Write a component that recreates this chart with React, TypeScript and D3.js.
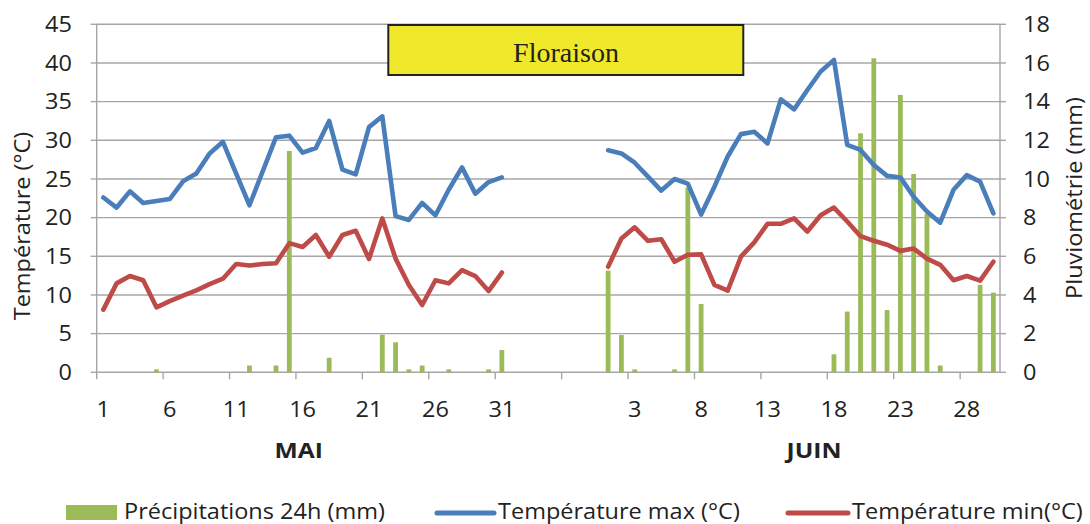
import React from 'react';
import * as d3 from 'd3';

const mayDays = ['1','2','3','4','5','6','7','8','9','10','11','12','13','14','15','16','17','18','19','20','21','22','23','24','25','26','27','28','29','30','31'];
const junDays = ['1','2','3','4','5','6','7','8','9','10','11','12','13','14','15','16','17','18','19','20','21','22','23','24','25','26','27','28','29','30'];
const gapSlots = 7;

const tmaxMay = [22.6,21.3,23.4,21.9,22.15,22.4,24.7,25.7,28.3,29.8,25.7,21.6,26.0,30.4,30.6,28.4,29.0,32.5,26.2,25.6,31.7,33.1,20.2,19.7,21.9,20.3,23.6,26.5,23.1,24.6,25.2];
const tminMay = [8.1,11.5,12.45,11.9,8.4,9.2,9.9,10.6,11.4,12.1,14.0,13.8,14.0,14.1,16.7,16.2,17.75,14.95,17.75,18.3,14.65,19.9,14.7,11.3,8.7,11.9,11.5,13.2,12.45,10.5,12.9];
const rainMay = [0,0,0,0,0.15,0,0,0,0,0,0,0.35,0,0.35,11.45,0,0,0.75,0,0,0,1.95,1.55,0.15,0.35,0,0.15,0,0,0.15,1.15];

const tmaxJun = [28.7,28.3,27.1,25.3,23.5,25.0,24.4,20.4,24.0,27.9,30.8,31.1,29.6,35.3,34.0,36.5,38.9,40.4,29.4,28.75,26.8,25.4,25.2,22.7,20.8,19.35,23.6,25.5,24.65,20.55];
const tminJun = [13.65,17.3,18.75,17.0,17.2,14.3,15.2,15.25,11.3,10.55,14.95,16.8,19.2,19.2,19.9,18.2,20.3,21.3,19.5,17.6,17.0,16.5,15.7,16.0,14.7,13.9,11.9,12.45,11.85,14.3];
const rainJun = [5.26,1.93,0.15,0,0,0.15,9.55,3.53,0,0,0,0,0,0,0,0,0,0.93,3.14,12.36,16.24,3.22,14.35,10.26,8.2,0.35,0,0,4.52,4.12];

const tempTicks = [0,5,10,15,20,25,30,35,40,45];
const rainTicks = [0,2,4,6,8,10,12,14,16,18];
const months = ['MAI','JUIN'];
const legendLabels = ['Précipitations 24h (mm)','Température max (°C)','Température min(°C)'];

type Pt = { i: number; label: string; tmax: number | null; tmin: number | null; rain: number | null };

const pts: Pt[] = [];
mayDays.forEach((d, k) => pts.push({ i: pts.length, label: d, tmax: tmaxMay[k], tmin: tminMay[k], rain: rainMay[k] }));
for (let g = 0; g < gapSlots; g++) pts.push({ i: pts.length, label: '', tmax: null, tmin: null, rain: null });
junDays.forEach((d, k) => pts.push({ i: pts.length, label: d, tmax: tmaxJun[k], tmin: tminJun[k], rain: rainJun[k] }));

const W = 1090, H = 524;
const L = 96.7, R = 1000, T = 24.3, B = 372.3;
const BLUE = '#4A7EBB', RED = '#BE4B48', GREEN = '#9BBB59', GRID = '#A6A6A6';
const FONT = 'Open Sans, sans-serif';
const SX = 1.12;

function Txt(props: { x: number; y: number; size: number; anchor?: string; weight?: string; rot?: number; dy?: string; children: React.ReactNode }) {
  const { x, y, size, anchor = 'start', weight = 'normal', rot = 0, dy, children } = props;
  return (
    <text transform={`translate(${x},${y}) rotate(${rot}) scale(${SX},1)`} textAnchor={anchor} fontSize={size} fontWeight={weight} dy={dy} fill="#222">
      {children}
    </text>
  );
}

export default function App() {
  const x = d3.scaleBand<number>().domain(pts.map(p => p.i)).range([L, R]).padding(0);
  const yT = d3.scaleLinear().domain([0, 45]).range([B, T]);
  const yR = d3.scaleLinear().domain([0, 18]).range([B, T]);
  const cx = (i: number) => (x(i) as number) + x.bandwidth() / 2;

  const lineMax = d3.line<Pt>().defined(p => p.tmax !== null).x(p => cx(p.i)).y(p => yT(p.tmax as number));
  const lineMin = d3.line<Pt>().defined(p => p.tmin !== null).x(p => cx(p.i)).y(p => yT(p.tmin as number));

  const barW = 4.8;
  const tickIdx = pts.filter(p => p.i % 5 === 0).map(p => p.i);

  const mayMid = cx(15) - 4;
  const junMid = (cx(31 + gapSlots + 15) + cx(31 + gapSlots + 16)) / 2;

  return (
    <svg width={W} height={H} style={{ position: 'absolute', left: 0, top: 0, background: '#fff' }} fontFamily={FONT}>
      {tempTicks.map(t => (
        <line key={'g' + t} x1={L} x2={R} y1={yT(t)} y2={yT(t)} stroke={GRID} strokeWidth={1.4} />
      ))}
      <line x1={L} x2={L} y1={T} y2={B} stroke={GRID} strokeWidth={1.4} />
      <line x1={R} x2={R} y1={T} y2={B} stroke={GRID} strokeWidth={1.4} />
      {tempTicks.map(t => (
        <line key={'lt' + t} x1={L - 6} x2={L} y1={yT(t)} y2={yT(t)} stroke={GRID} strokeWidth={1.4} />
      ))}
      {rainTicks.map(t => (
        <line key={'rt' + t} x1={R} x2={R + 6} y1={yR(t)} y2={yR(t)} stroke={GRID} strokeWidth={1.4} />
      ))}
      {tickIdx.map(i => (
        <line key={'xt' + i} x1={x(i) as number} x2={x(i) as number} y1={B} y2={B + 7} stroke={GRID} strokeWidth={1.4} />
      ))}
      {pts.filter(p => p.rain !== null && (p.rain as number) > 0).map(p => (
        <rect key={'b' + p.i} x={cx(p.i) - barW / 2} width={barW} y={yR(p.rain as number)} height={B - yR(p.rain as number)} fill={GREEN} />
      ))}
      <path d={lineMax(pts) || ''} fill="none" stroke={BLUE} strokeWidth={4.6} strokeLinejoin="round" strokeLinecap="round" />
      <path d={lineMin(pts) || ''} fill="none" stroke={RED} strokeWidth={4.6} strokeLinejoin="round" strokeLinecap="round" />
      {tempTicks.map(t => (
        <Txt key={'tl' + t} x={72} y={yT(t)} dy="0.36em" anchor="end" size={21}>{t}</Txt>
      ))}
      {rainTicks.map(t => (
        <Txt key={'rl' + t} x={1023} y={yR(t)} dy="0.36em" anchor="start" size={21}>{t}</Txt>
      ))}
      {tickIdx.map(i => (
        <Txt key={'xl' + i} x={cx(i)} y={417} anchor="middle" size={21}>{pts[i].label}</Txt>
      ))}
      <Txt x={mayMid} y={458} anchor="middle" size={22} weight="bold">{months[0]}</Txt>
      <Txt x={junMid} y={458} anchor="middle" size={22} weight="bold">{months[1]}</Txt>
      <Txt x={30} y={226} rot={-90} anchor="middle" size={21}>Température (°C)</Txt>
      <Txt x={1082} y={198} rot={-90} anchor="middle" size={21}>Pluviométrie (mm)</Txt>
      <rect x={388.3} y={25} width={355} height={50} fill="#F0E82A" stroke="#222" strokeWidth={2} />
      <text x={566} y={62} textAnchor="middle" fontSize={28} fontFamily="Liberation Serif, serif" fill="#222">Floraison</text>
      <rect x={66} y={505} width={51} height={15} fill={GREEN} />
      <Txt x={124} y={518.5} size={21}>{legendLabels[0]}</Txt>
      <line x1={437} x2={494} y1={513} y2={513} stroke={BLUE} strokeWidth={5} strokeLinecap="round" />
      <Txt x={498} y={518.5} size={21}>{legendLabels[1]}</Txt>
      <line x1={788} x2={848} y1={513} y2={513} stroke={RED} strokeWidth={5} strokeLinecap="round" />
      <Txt x={852} y={518.5} size={21}>{legendLabels[2]}</Txt>
    </svg>
  );
}
